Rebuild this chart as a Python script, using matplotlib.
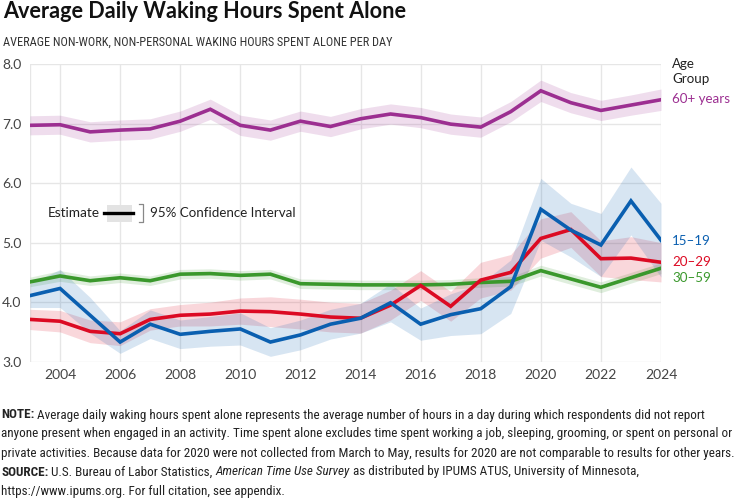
import matplotlib
matplotlib.use("Agg")
import matplotlib.pyplot as plt
import numpy as np
from matplotlib.patches import Rectangle
from matplotlib.lines import Line2D
from matplotlib import font_manager

years = list(range(2003, 2025))

age_60 = [6.97, 6.98, 6.86, 6.89, 6.91, 7.04, 7.24, 6.97, 6.89, 7.04, 6.95, 7.08,
          7.16, 7.10, 6.99, 6.94, 7.20, 7.55, 7.35, 7.22, 7.31, 7.40]
ci_60 = [0.16, 0.16, 0.17, 0.17, 0.17, 0.17, 0.17, 0.17, 0.17, 0.17, 0.17, 0.17,
         0.17, 0.17, 0.17, 0.17, 0.17, 0.18, 0.17, 0.17, 0.17, 0.18]

age_30 = [4.34, 4.44, 4.36, 4.41, 4.36, 4.47, 4.48, 4.45, 4.47, 4.31, 4.30, 4.29,
          4.29, 4.29, 4.30, 4.33, 4.35, 4.53, 4.39, 4.25, 4.41, 4.57]
ci_30 = [0.08, 0.09, 0.08, 0.08, 0.08, 0.08, 0.08, 0.08, 0.08, 0.08, 0.08, 0.08,
         0.08, 0.08, 0.08, 0.08, 0.08, 0.09, 0.09, 0.09, 0.09, 0.09]

age_15 = [4.11, 4.23, 3.78, 3.33, 3.63, 3.46, 3.51, 3.55, 3.33, 3.45, 3.63, 3.73,
          3.99, 3.63, 3.79, 3.89, 4.26, 5.56, 5.21, 4.96, 5.70, 5.04]
ci_15 = [0.20, 0.32, 0.30, 0.19, 0.24, 0.24, 0.25, 0.27, 0.24, 0.25, 0.25, 0.25,
         0.32, 0.27, 0.35, 0.42, 0.45, 0.52, 0.45, 0.53, 0.57, 0.62]

age_20 = [3.71, 3.68, 3.51, 3.47, 3.71, 3.78, 3.80, 3.85, 3.84, 3.80, 3.75, 3.73,
          3.95, 4.28, 3.93, 4.37, 4.50, 5.07, 5.22, 4.73, 4.74, 4.67]
ci_20 = [0.17, 0.18, 0.19, 0.20, 0.18, 0.18, 0.20, 0.22, 0.25, 0.25, 0.25, 0.25,
         0.25, 0.25, 0.25, 0.30, 0.30, 0.33, 0.30, 0.30, 0.36, 0.33]

series = [
    ("60+ years", age_60, ci_60, "#9c2f91"),
    ("30\u201359", age_30, ci_30, "#3a982c"),
    ("20\u201329", age_20, ci_20, "#dc0a23"),
    ("15\u201319", age_15, ci_15, "#0a5fb0"),
]

yticks = [3.0, 4.0, 5.0, 6.0, 7.0, 8.0]
xticks = list(range(2004, 2025, 2))

FONT = ["Lato", "DejaVu Sans"]
plt.rcParams["font.family"] = FONT

# pick a narrow/condensed face if one is installed
names = {f.name for f in font_manager.fontManager.ttflist}
narrow_family, narrow_stretch = "Roboto", "normal"
for cand in ["Liberation Sans Narrow", "Roboto Condensed", "Open Sans Condensed",
             "Noto Sans Condensed", "DejaVu Sans Condensed"]:
    if cand in names:
        narrow_family = cand
        break
else:
    for f in font_manager.fontManager.ttflist:
        st = f.stretch
        if (isinstance(st, str) and "condensed" in st) or (isinstance(st, int) and st < 500):
            if f.name in ("Noto Sans", "Open Sans", "Roboto", "DejaVu Sans"):
                narrow_family, narrow_stretch = f.name, st
                break

fig = plt.figure(figsize=(7.34, 5.01), dpi=100)
ax = fig.add_axes([30/734, 1-361.7/501, (661-30)/734, (361.7-64)/501])

ax.set_xlim(2003, 2024)
ax.set_ylim(3.0, 8.0)
for s in ax.spines.values():
    s.set_visible(False)
ax.set_xticks(xticks)
ax.set_yticks(yticks)
ax.grid(True, color="#e6e6e6", linewidth=1.0)
ax.axvline(2003, color="#e6e6e6", linewidth=1.0, zorder=0)
ax.set_axisbelow(True)
ax.tick_params(length=0, labelsize=10, colors="#444444")
ax.tick_params(axis="x", pad=5)
ax.set_yticklabels([f"{v:.1f}" for v in yticks])
for lbl in ax.get_yticklabels():
    lbl.set_horizontalalignment("left")
ax.tick_params(axis="y", pad=20)

for name, vals, ci, col in series:
    v = np.array(vals); c = np.array(ci)
    ax.fill_between(years, v - c, v + c, color=col, alpha=0.16, linewidth=0)
for name, vals, ci, col in series:
    ax.plot(years, vals, color=col, linewidth=2.6, solid_joinstyle="miter", zorder=3)

# end labels
label_y = {"60+ years": 7.42, "15\u201319": 5.03, "20\u201329": 4.67, "30\u201359": 4.41}
for name, vals, ci, col in series:
    ax.annotate(name, xy=(2024, label_y[name]), xytext=(8, 0), textcoords="offset points",
                va="center", ha="left", color=col, fontsize=9.6, annotation_clip=False)
ax.annotate("Age\nGroup", xy=(2024, 7.87), xytext=(8, 0), textcoords="offset points",
            va="center", ha="left", color="#222222", fontsize=9.6, linespacing=1.3,
            annotation_clip=False)

# legend element
fig.text(48/734, 1-213/501, "Estimate", fontsize=9.8, va="center", ha="left", color="#222222")
fig.patches.append(Rectangle((107/734, 1-222/501), 25/734, 17/501, transform=fig.transFigure,
                             facecolor="#e3e3e3", edgecolor="none"))
fig.lines.append(Line2D([104/734, 133/734], [1-213/501, 1-213/501], transform=fig.transFigure,
                        color="black", linewidth=2.4))
fig.lines.append(Line2D([139/734, 143/734, 143/734, 139/734],
                        [1-204/501, 1-204/501, 1-222/501, 1-222/501],
                        transform=fig.transFigure, color="#888888", linewidth=0.9))
fig.text(150/734, 1-213/501, "95% Confidence Interval", fontsize=9.6, va="center", ha="left",
         color="#222222")

fig.canvas.draw()
renderer = fig.canvas.get_renderer()

def fit_size(txt, target_px, size, **kw):
    t = fig.text(0, 0, txt, fontsize=size, **kw)
    w = t.get_window_extent(renderer).width
    t.remove()
    return size * target_px / w

# titles
ts = fit_size("Average Daily Waking Hours Spent Alone", 404, 15, fontweight="bold")
fig.text(3/734, 1-12/501, "Average Daily Waking Hours Spent Alone", fontsize=ts, fontweight="bold",
         va="center", ha="left", color="#111111")
sub = "AVERAGE NON-WORK, NON-PERSONAL WAKING HOURS SPENT ALONE PER DAY"
ss = fit_size(sub, 389, 9, family=[narrow_family, "DejaVu Sans"], fontstretch=narrow_stretch)
fig.text(3/734, 1-42/501, sub, fontsize=ss, family=[narrow_family, "DejaVu Sans"],
         fontstretch=narrow_stretch, va="center", ha="left", color="#333333")

# notes
NFONT = [narrow_family, "DejaVu Sans"]
note_lines = [
    [("NOTE:", "bold", "normal"), (" Average daily waking hours spent alone represents the average number of hours in a day during which respondents did not report", "normal", "normal")],
    [("anyone present when engaged in an activity. Time spent alone excludes time spent working a job, sleeping, grooming, or spent on personal or", "normal", "normal")],
    [("private activities. Because data for 2020 were not collected from March to May, results for 2020 are not comparable to results for other years.", "normal", "normal")],
    [("SOURCE:", "bold", "normal"), (" U.S. Bureau of Labor Statistics, ", "normal", "normal"), ("American Time Use Survey", "normal", "italic"), (" as distributed by IPUMS ATUS, University of Minnesota,", "normal", "normal")],
    [("https://www.ipums.org. For full citation, see appendix.", "normal", "normal")],
]
ns = fit_size(note_lines[1][0][0], 730, 9, family=NFONT, fontstretch=narrow_stretch)
y0 = 415
for i, parts in enumerate(note_lines):
    x = 1.0
    y = 1 - (y0 + i*19)/501
    for txt, w, st in parts:
        t = fig.text(x/734, y, txt, fontsize=ns, fontweight=w, fontstyle=st, family=NFONT,
                     fontstretch=narrow_stretch, va="center", ha="left", color="#222222")
        bb = t.get_window_extent(renderer)
        x += bb.width

fig.savefig("out.png", dpi=100)
